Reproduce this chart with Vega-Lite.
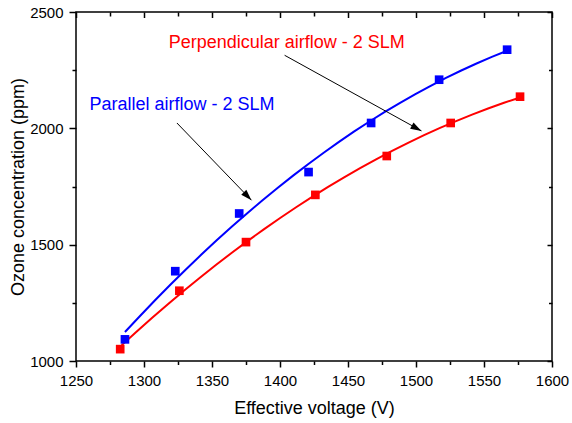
{
  "$schema": "https://vega.github.io/schema/vega-lite/v6.json",
  "width": 476,
  "height": 349,
  "autosize": {"type": "none"},
  "padding": {"left": 76, "top": 12, "right": 20, "bottom": 62},
  "background": "white",
  "config": {
    "view": {"stroke": "black", "strokeWidth": 1.5},
    "font": "Liberation Sans",
    "axis": {
      "domain": false,
      "grid": false,
      "labelFont": "Liberation Sans",
      "labelFontSize": 15,
      "labelColor": "black",
      "titleFont": "Liberation Sans",
      "titleFontSize": 18,
      "titleFontWeight": "normal",
      "titleColor": "black",
      "labelFlush": false,
      "labelOverlap": false
    }
  },
  "resolve": {"axis": {"x": "independent", "y": "independent"}},
  "datasets": {
    "pts": [
      {"series": "Parallel airflow", "V": 1286, "O3": 1093},
      {"series": "Parallel airflow", "V": 1323, "O3": 1386},
      {"series": "Parallel airflow", "V": 1370, "O3": 1634},
      {"series": "Parallel airflow", "V": 1421, "O3": 1812},
      {"series": "Parallel airflow", "V": 1467, "O3": 2023},
      {"series": "Parallel airflow", "V": 1517, "O3": 2209},
      {"series": "Parallel airflow", "V": 1567, "O3": 2338},
      {"series": "Perpendicular airflow", "V": 1282.5, "O3": 1051},
      {"series": "Perpendicular airflow", "V": 1326, "O3": 1302},
      {"series": "Perpendicular airflow", "V": 1375, "O3": 1511},
      {"series": "Perpendicular airflow", "V": 1426, "O3": 1714},
      {"series": "Perpendicular airflow", "V": 1478.5, "O3": 1881},
      {"series": "Perpendicular airflow", "V": 1525.5, "O3": 2023},
      {"series": "Perpendicular airflow", "V": 1576.5, "O3": 2136}
    ],
    "notes": [
      {"series": "Parallel airflow", "label": "Parallel airflow - 2 SLM", "V": 1328, "O3": 2078},
      {"series": "Perpendicular airflow", "label": "Perpendicular airflow - 2 SLM", "V": 1405, "O3": 2347}
    ],
    "arrows": [
      {"V": 1324.2, "O3": 2023, "V2": 1379, "O32": 1691},
      {"V": 1403.4, "O3": 2314, "V2": 1504, "O32": 1989}
    ]
  },
  "layer": [
    {
      "data": {"name": "pts"},
      "transform": [
        {"regression": "O3", "on": "V", "groupby": ["series"], "method": "poly", "order": 2}
      ],
      "mark": {"type": "line", "strokeWidth": 2},
      "encoding": {
        "x": {"field": "V", "type": "quantitative", "scale": {"domain": [1250, 1600], "nice": false, "zero": false}, "axis": null},
        "y": {"field": "O3", "type": "quantitative", "scale": {"domain": [1000, 2500], "nice": false, "zero": false}, "axis": null},
        "color": {"field": "series", "type": "nominal", "scale": {"domain": ["Parallel airflow", "Perpendicular airflow"], "range": ["#0000ff", "#ff0000"]}, "legend": null}
      }
    },
    {
      "data": {"name": "pts"},
      "mark": {"type": "point", "shape": "square", "filled": true, "size": 75, "opacity": 1, "strokeWidth": 0},
      "encoding": {
        "x": {
          "field": "V", "type": "quantitative",
          "axis": {
            "orient": "bottom",
            "title": "Effective voltage (V)",
            "values": [1250, 1300, 1350, 1400, 1450, 1500, 1550, 1600],
            "format": "d",
            "domain": false, "grid": false,
            "ticks": true, "tickColor": "black", "tickWidth": 1.5, "tickOpacity": 1,
            "tickSize": 6,
            "labelPadding": 6,
            "titleBaseline": "alphabetic",
            "titleY": 52
          }
        },
        "y": {
          "field": "O3", "type": "quantitative",
          "axis": {
            "orient": "left",
            "title": "Ozone concentration (ppm)",
            "values": [1000, 1500, 2000, 2500],
            "format": "d",
            "domain": false, "grid": false,
            "ticks": true, "tickColor": "black", "tickWidth": 1.5, "tickOpacity": 1,
            "tickSize": 7,
            "labelPadding": 6,
            "titleBaseline": "alphabetic",
            "titleX": -53
          }
        },
        "color": {"field": "series", "type": "nominal", "legend": null}
      }
    },
    {
      "data": {"name": "notes"},
      "mark": {"type": "text", "fontSize": 18, "align": "center", "baseline": "alphabetic", "font": "Liberation Sans"},
      "encoding": {
        "x": {
          "field": "V", "type": "quantitative",
          "axis": {"orient": "bottom", "title": null, "labels": false, "domain": false, "grid": false, "ticks": true, "tickColor": "black", "tickWidth": 1.5, "tickOpacity": 1, "values": [1275, 1325, 1375, 1425, 1475, 1525, 1575], "tickSize": 3.5}
        },
        "y": {
          "field": "O3", "type": "quantitative",
          "axis": {"orient": "left", "title": null, "labels": false, "domain": false, "grid": false, "ticks": true, "tickColor": "black", "tickWidth": 1.5, "tickOpacity": 1, "values": [1250, 1750, 2250], "tickSize": 4}
        },
        "text": {"field": "label"},
        "color": {"field": "series", "type": "nominal", "legend": null}
      }
    },
    {
      "data": {"name": "arrows"},
      "mark": {"type": "rule", "color": "black", "strokeWidth": 1},
      "encoding": {
        "x": {
          "field": "V", "type": "quantitative",
          "axis": {"orient": "top", "title": null, "labels": false, "domain": false, "grid": false, "ticks": true, "tickColor": "black", "tickWidth": 1.5, "tickOpacity": 1, "values": [1250, 1300, 1350, 1400, 1450, 1500, 1550, 1600], "tickSize": -5.5}
        },
        "y": {
          "field": "O3", "type": "quantitative",
          "axis": {"orient": "right", "title": null, "labels": false, "domain": false, "grid": false, "ticks": true, "tickColor": "black", "tickWidth": 1.5, "tickOpacity": 1, "values": [1000, 1500, 2000, 2500], "tickSize": -5}
        },
        "x2": {"field": "V2"},
        "y2": {"field": "O32"}
      }
    },
    {
      "data": {"name": "arrows"},
      "transform": [
        {"calculate": "atan2(-(datum.O32 - datum.O3) * height / 1500, (datum.V2 - datum.V) * width / 350) * 180 / PI", "as": "ang"}
      ],
      "mark": {"type": "point", "shape": "M0,0L-2,-0.64L-2,0.64Z", "size": 121, "filled": true, "color": "black", "opacity": 1, "strokeWidth": 0},
      "encoding": {
        "x": {
          "field": "V2", "type": "quantitative",
          "axis": {"orient": "top", "title": null, "labels": false, "domain": false, "grid": false, "ticks": true, "tickColor": "black", "tickWidth": 1.5, "tickOpacity": 1, "values": [1275, 1325, 1375, 1425, 1475, 1525, 1575], "tickSize": -4}
        },
        "y": {
          "field": "O32", "type": "quantitative",
          "axis": {"orient": "right", "title": null, "labels": false, "domain": false, "grid": false, "ticks": true, "tickColor": "black", "tickWidth": 1.5, "tickOpacity": 1, "values": [1250, 1750, 2250], "tickSize": -3.5}
        },
        "angle": {"field": "ang", "type": "quantitative", "scale": null}
      }
    }
  ]
}
